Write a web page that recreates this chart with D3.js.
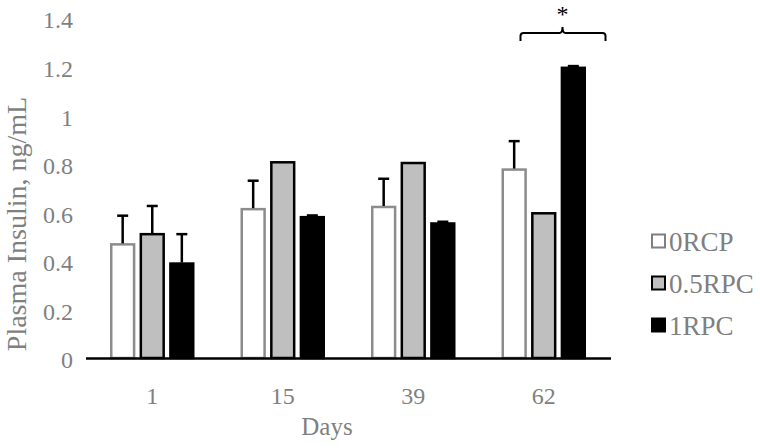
<!DOCTYPE html>
<html><head><meta charset="utf-8">
<script src="https://cdn.jsdelivr.net/npm/d3@7"></script>
<style>body{margin:0;background:#fff}svg{display:block}text{font-family:"Liberation Serif","Times New Roman",serif}</style>
</head><body><svg id="c" width="760" height="448"></svg>
<script>
const categories = ["1", "15", "39", "62"];
const seriesNames = ["0RCP", "0.5RPC", "1RPC"];
const values0RCP = [0.472, 0.617, 0.626, 0.780];
const values05RPC = [0.514, 0.810, 0.807, 0.600];
const values1RPC = [0.393, 0.584, 0.558, 1.199];
const errors0RCP = [0.114, 0.113, 0.112, 0.113];
const errors05RPC = [0.112, 0, 0, 0];
const errors1RPC = [0.117, 0.003, 0.003, 0.003];
const yTicks = [0, 0.2, 0.4, 0.6, 0.8, 1, 1.2, 1.4];

const fills = ["#ffffff", "#bfbfbf", "#000000"];
const strokes = ["#8c8c8c", "#000000", "#000000"];
const values = [values0RCP, values05RPC, values1RPC];
const errors = [errors0RCP, errors05RPC, errors1RPC];

const svg = d3.select("#c");
const x0 = d3.scaleBand().domain(categories).range([87, 609]).paddingInner(0).paddingOuter(0);
const x1 = d3.scaleBand().domain(seriesNames).range([x0.bandwidth()/2 - 42, x0.bandwidth()/2 + 42]).paddingInner(0.16).paddingOuter(0);
const y = d3.scaleLinear().domain([0, 1.4]).range([358, 18]);

const gray = "#7f7f7f";
// y tick labels
svg.append("g").selectAll("text").data(yTicks).join("text")
  .attr("x", 73).attr("y", d => y(d) + 2).attr("dy", "0.35em")
  .attr("text-anchor", "end").attr("font-size", 24).attr("fill", gray)
  .text(d => d3.format("")(d));

// bars
const data = [];
categories.forEach((c, i) => seriesNames.forEach((s, j) => data.push({c, s, j, v: values[j][i], e: errors[j][i]})));
const g = svg.append("g");
g.selectAll("rect").data(data).join("rect")
  .attr("x", d => x0(d.c) + x1(d.s) + 1)
  .attr("y", d => y(d.v) + 1)
  .attr("width", x1.bandwidth() - 2)
  .attr("height", d => y(0) - y(d.v) - 1)
  .attr("fill", d => fills[d.j]).attr("stroke", d => strokes[d.j]).attr("stroke-width", 2.5);

// error bars
const eb = svg.append("g").attr("stroke", "#000").attr("stroke-width", 2.5);
data.filter(d => d.e > 0).forEach(d => {
  const cx = x0(d.c) + x1(d.s) + x1.bandwidth()/2;
  eb.append("line").attr("x1", cx).attr("x2", cx).attr("y1", y(d.v)).attr("y2", y(d.v + d.e));
  eb.append("line").attr("x1", cx - 5.5).attr("x2", cx + 5.5).attr("y1", y(d.v + d.e)).attr("y2", y(d.v + d.e));
});

// x axis line
svg.append("line").attr("x1", 86).attr("x2", 611).attr("y1", y(0)+0.5).attr("y2", y(0)+0.5)
  .attr("stroke", "#000").attr("stroke-width", 2.5);

// x labels
svg.append("g").selectAll("text").data(categories).join("text")
  .attr("x", d => x0(d) + x0.bandwidth()/2).attr("y", 404)
  .attr("text-anchor", "middle").attr("font-size", 24).attr("fill", gray).text(d => d);

svg.append("text").attr("x", 327).attr("y", 435).attr("text-anchor", "middle")
  .attr("font-size", 25).attr("fill", gray).text("Days");
svg.append("text").attr("transform", "translate(26,224) rotate(-90)").attr("text-anchor", "middle")
  .attr("font-size", 28).attr("fill", gray).text("Plasma Insulin, ng/mL");

// significance brace
const base = x0("62");
const bx1 = base + 42, bx2 = base + 127;
const bm = base + 84;
const by = 33;
svg.append("path")
  .attr("d", `M${bx1},${by+8} L${bx1},${by+3} Q${bx1},${by} ${bx1+3},${by} L${bm-3},${by} Q${bm},${by} ${bm},${by-6} Q${bm},${by} ${bm+3},${by} L${bx2-3},${by} Q${bx2},${by} ${bx2},${by+3} L${bx2},${by+8}`)
  .attr("fill", "none").attr("stroke", "#000").attr("stroke-width", 2);
svg.append("text").attr("x", bm).attr("y", 22).attr("text-anchor", "middle")
  .attr("font-size", 24).attr("fill", "#000").text("*");

// legend
const leg = svg.append("g");
seriesNames.forEach((s, j) => {
  const ly = 241 + j * 42;
  leg.append("rect").attr("x", 652).attr("y", ly - 6.5).attr("width", 13).attr("height", 13)
    .attr("fill", fills[j]).attr("stroke", j === 0 ? gray : "#000").attr("stroke-width", 2);
  leg.append("text").attr("x", 669).attr("y", ly + 1).attr("dy", "0.35em")
    .attr("font-size", 27).attr("fill", gray).text(s);
});
</script></body></html>
